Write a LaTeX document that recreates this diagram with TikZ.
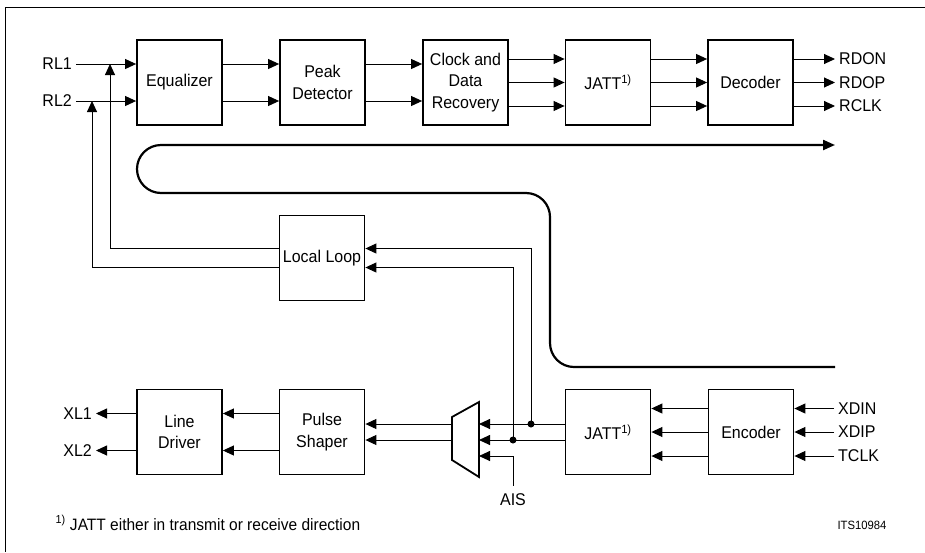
\documentclass[tikz,border=0pt]{standalone}
\usepackage{fontspec}
\setmainfont{Liberation Sans}[FakeStretch=0.94]
\usetikzlibrary{arrows.meta}

\tikzset{
  blk/.style={draw, line width=1.8pt, minimum width=85pt, minimum height=85pt, align=center, inner sep=2pt},
  sig/.style={line width=0.9pt, -{Triangle[length=11pt,width=10pt]}},
  lbl/.style={inner sep=4pt},
}

\begin{document}
\begin{tikzpicture}[x=1pt,y=-1pt,font=\fontsize{17}{21.5}\selectfont]
		\useasboundingbox (0,0) rectangle (925,552);
		\draw[line width=0.8pt] (925,7) -- (5,7) -- (5,552);
		%%%%%%%%%%%%% receive side
		\node[blk] (eq) at (179.5,82.5) {Equalizer};
		\node[blk] (pd) at (322.5,82.5) {Peak\\Detector};
		\node[blk] (cdr) at (465.5,82.5) {Clock and\\Data\\Recovery};
		\node[blk] (jr) at (608,82.5) {JATT\textsuperscript{1)}};
		\node[blk] (dec) at (750.5,82.5) {Decoder};
		\node[blk] (ll) at (322,258) {Local Loop};
		%%%%%%%%%%%%% transmit side
		\node[blk] (ld) at (179.5,432) {Line\\Driver};
		\node[blk] (ps) at (322,432) {Pulse\\Shaper};
		\node[blk] (jx) at (608,432) {JATT\textsuperscript{1)}};
		\node[blk] (enc) at (751,432) {Encoder};
		%%%%%%%%%%%%% pins
		\node[lbl, anchor=east] (rl1) at (76,64) {RL1};
		\node[lbl, anchor=east] (rl2) at (76,101) {RL2};
		\node[lbl, anchor=west] (rdon) at (835,59) {RDON};
		\node[lbl, anchor=west] (rdop) at (835,82.5) {RDOP};
		\node[lbl, anchor=west] (rclk) at (835,106) {RCLK};
		\node[lbl, anchor=east] (xl1) at (96,413.5) {XL1};
		\node[lbl, anchor=east] (xl2) at (96,450.5) {XL2};
		\node[lbl, anchor=west] (xdin) at (834,408.5) {XDIN};
		\node[lbl, anchor=west] (xdip) at (834,432) {XDIP};
		\node[lbl, anchor=west] (tclk) at (834,456) {TCLK};
		\node[lbl, inner ysep=8pt] (ais) at (513,500) {AIS};
		%%%%%%%%%%%%% multiplexer
		\draw[line width=1.8pt] (452,417) -- (479,402) -- (479,477) -- (452,460) -- cycle;
		\coordinate (mi1) at (479,424);
		\coordinate (mi2) at (479,440);
		\coordinate (mi3) at (479,456);
		\coordinate (mo1) at (452,424);
		\coordinate (mo2) at (452,440);
		\coordinate (d1) at (531,424);
		\coordinate (d2) at (513,440);
		\coordinate (fb1) at (110,64);
		\coordinate (fb2) at (92,101);
		%%%%%%%%%%%%% receive connectors
		\draw[sig] (rl1.east) -- ([yshift=18.5pt]eq.west);
		\draw[sig] (rl2.east) -- ([yshift=-18.5pt]eq.west);
		\foreach \d in {18.5,-18.5} {
			\draw[sig] ([yshift=\d pt]eq.east) -- ([yshift=\d pt]pd.west);
			\draw[sig] ([yshift=\d pt]pd.east) -- ([yshift=\d pt]cdr.west);
		}
		\foreach \d in {23.5,0,-23.5} {
			\draw[sig] ([yshift=\d pt]cdr.east) -- ([yshift=\d pt]jr.west);
			\draw[sig] ([yshift=\d pt]jr.east) -- ([yshift=\d pt]dec.west);
		}
		\draw[sig] ([yshift=23.5pt]dec.east) -- (rdon.west);
		\draw[sig] (dec.east) -- (rdop.west);
		\draw[sig] ([yshift=-23.5pt]dec.east) -- (rclk.west);
		%%%%%%%%%%%%% local loop
		\draw[sig] ([yshift=9.5pt]ll.west) -| (fb1);
		\draw[sig] ([yshift=-9.5pt]ll.west) -| (fb2);
		\draw[sig] (d1) |- ([yshift=9.5pt]ll.east);
		\draw[sig] (d2) |- ([yshift=-9.5pt]ll.east);
		\fill (d1) circle (3.5pt);
		\fill (d2) circle (3.5pt);
		%%%%%%%%%%%%% transmit connectors
		\draw[sig] (xdin.west) -- ([yshift=23.5pt]enc.east);
		\draw[sig] (xdip.west) -- (enc.east);
		\draw[sig] (tclk.west) -- ([yshift=-24pt]enc.east);
		\foreach \d in {23.5,0,-24} {
			\draw[sig] ([yshift=\d pt]enc.west) -- ([yshift=\d pt]jx.east);
		}
		\draw[sig] ([yshift=8pt]jx.west) -- (mi1);
		\draw[sig] ([yshift=-8pt]jx.west) -- (mi2);
		\draw[sig] (ais.north) |- (mi3);
		\draw[sig] (mo1) -- ([yshift=8pt]ps.east);
		\draw[sig] (mo2) -- ([yshift=-8pt]ps.east);
		\foreach \d in {18.5,-18.5} {
			\draw[sig] ([yshift=\d pt]ps.west) -- ([yshift=\d pt]ld.east);
		}
		\draw[sig] ([yshift=18.5pt]ld.west) -- (xl1.east);
		\draw[sig] ([yshift=-18.5pt]ld.west) -- (xl2.east);
		%%%%%%%%%%%%% chip boundary
		\draw[line width=2.2pt, rounded corners=24pt, -{Triangle[length=12pt,width=10pt]}]
			(835,367) -- (550,367) -- (550,193) -- (137,193) -- (137,145) -- (835,145);
		%%%%%%%%%%%%% notes
		\node[anchor=west, font=\fontsize{16.5}{19}\selectfont] (fn) at (52,523) {\textsuperscript{1)} JATT either in transmit or receive direction};
		\node[anchor=west, font=\fontsize{12}{14}\selectfont] (its) at (834,525) {ITS10984};
	\end{tikzpicture}
\end{document}
